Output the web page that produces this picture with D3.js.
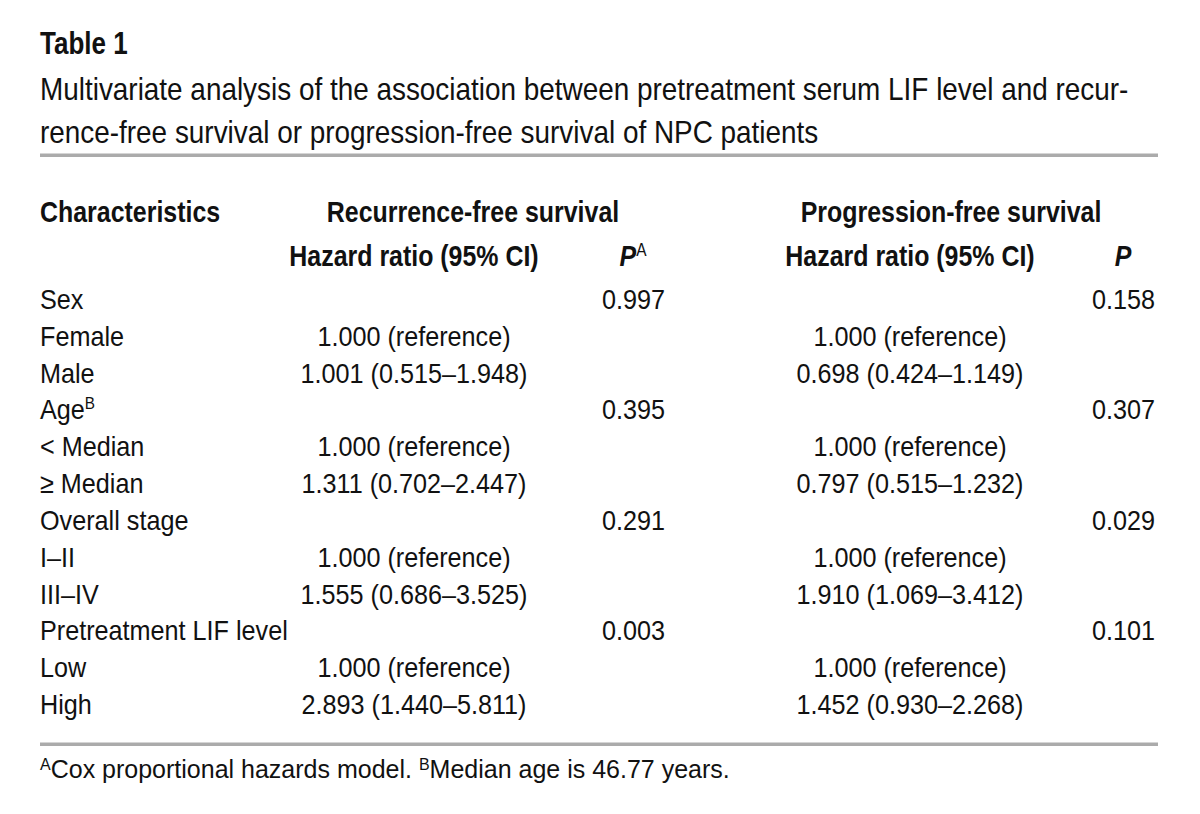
<!DOCTYPE html>
<html>
<head>
<meta charset="utf-8">
<script src="https://cdn.jsdelivr.net/npm/d3@7/dist/d3.min.js"></script>
<style>
  html, body { margin: 0; padding: 0; background: #fff; }
  svg { display: block; }
  text { font-family: "Liberation Sans", Arial, Helvetica, sans-serif; }
</style>
</head>
<body>
<svg id="chart" width="1200" height="814"></svg>
<script>
const titleText = "Table 1";
const subtitleLines = [
  "Multivariate analysis of the association between pretreatment serum LIF level and recur-",
  "rence-free survival or progression-free survival of NPC patients"
];
const groupHeaders = ["Recurrence-free survival", "Progression-free survival"];
const subHeaders = ["Hazard ratio (95% CI)", "P", "Hazard ratio (95% CI)", "P"];
const subHeaderSup = ["", "A", "", ""];
const characteristics = ["Sex", "Female", "Male", "Age", "< Median", "\u2265 Median", "Overall stage", "I\u2013II", "III\u2013IV", "Pretreatment LIF level", "Low", "High"];
const charSup = ["", "", "", "B", "", "", "", "", "", "", "", ""];
const rfsHR = ["", "1.000 (reference)", "1.001 (0.515\u20131.948)", "", "1.000 (reference)", "1.311 (0.702\u20132.447)", "", "1.000 (reference)", "1.555 (0.686\u20133.525)", "", "1.000 (reference)", "2.893 (1.440\u20135.811)"];
const rfsP = ["0.997", "", "", "0.395", "", "", "0.291", "", "", "0.003", "", ""];
const pfsHR = ["", "1.000 (reference)", "0.698 (0.424\u20131.149)", "", "1.000 (reference)", "0.797 (0.515\u20131.232)", "", "1.000 (reference)", "1.910 (1.069\u20133.412)", "", "1.000 (reference)", "1.452 (0.930\u20132.268)"];
const pfsP = ["0.158", "", "", "0.307", "", "", "0.029", "", "", "0.101", "", ""];
const footSups = ["A", "B"];
const footTexts = ["Cox proportional hazards model. ", "Median age is 46.77 years."];

const svg = d3.select("#chart");
const left = 40, right = 1158;
const ink = "#111";
const ruleColor = "#ababab";

// condensed text helper: g positioned at (x,y) with horizontal squeeze
function cgroup(parent, x, y, sx) {
  return parent.append("g").attr("transform", `translate(${x},${y}) scale(${sx},1)`);
}

// Title
cgroup(svg, left, 54, 0.84).append("text")
  .attr("font-size", 31).attr("font-weight", "bold").attr("fill", ink)
  .text(titleText);

svg.selectAll("g.sub").data(subtitleLines).enter().append("g")
  .attr("class", "sub")
  .attr("transform", (d, i) => `translate(${left},${100 + i * 43}) scale(0.9,1)`)
  .append("text")
  .attr("font-size", 31).attr("fill", ink)
  .text(d => d);

// Rules
svg.append("rect").attr("x", left).attr("y", 153.5).attr("width", right - left).attr("height", 3.5).attr("fill", ruleColor);
svg.append("rect").attr("x", left).attr("y", 742.5).attr("width", right - left).attr("height", 3.5).attr("fill", ruleColor);

// Column positions
const col = {rfsHR: 414, rfsP: 665, rfsPc: 633, pfsHR: 910, pfsP: 1155, pfsPc: 1123};
const hs = 0.86, bs = 0.9;

// Header row 1
const h1y = 222, h2y = 266;
cgroup(svg, left, h1y, hs).append("text")
  .attr("font-size", 29).attr("font-weight", "bold").attr("fill", ink).text("Characteristics");
svg.selectAll("g.gh").data(groupHeaders).enter().append("g")
  .attr("class", "gh")
  .attr("transform", (d, i) => `translate(${i === 0 ? 473 : 951},${h1y}) scale(${hs},1)`)
  .append("text").attr("text-anchor", "middle")
  .attr("font-size", 29).attr("font-weight", "bold").attr("fill", ink).text(d => d);

// Header row 2
const subX = [col.rfsHR, col.rfsPc, col.pfsHR, col.pfsPc];
subHeaders.forEach((d, i) => {
  const t = cgroup(svg, subX[i], h2y, hs).append("text")
    .attr("text-anchor", "middle")
    .attr("font-size", 29).attr("font-weight", "bold").attr("fill", ink);
  if (d === "P") {
    t.append("tspan").attr("font-style", "italic").text("P");
    if (subHeaderSup[i]) t.append("tspan").attr("font-size", 18).attr("font-weight", "normal").attr("dy", -10).text(subHeaderSup[i]);
  } else {
    t.text(d);
  }
});

// Body rows
const y = d3.scaleLinear().domain([0, characteristics.length - 1]).range([309, 714]);
const body = svg.append("g").attr("font-size", 28).attr("fill", ink);

const charText = body.selectAll("g.ch").data(characteristics).enter().append("g")
  .attr("class", "ch")
  .attr("transform", (d, i) => `translate(${left},${y(i)}) scale(${bs},1)`)
  .append("text");
charText.append("tspan").text(d => d);
charText.append("tspan").attr("font-size", 17).attr("dy", -10).text((d, i) => charSup[i]);

function colText(arr, x, anchor, cls) {
  body.selectAll("g." + cls).data(arr).enter().append("g")
    .attr("class", cls)
    .attr("transform", (d, i) => `translate(${x},${y(i)}) scale(${bs},1)`)
    .append("text").attr("text-anchor", anchor).text(d => d);
}
colText(rfsHR, col.rfsHR, "middle", "c1");
colText(rfsP, col.rfsP, "end", "c2");
colText(pfsHR, col.pfsHR, "middle", "c3");
colText(pfsP, col.pfsP, "end", "c4");

// Footnote
const fn = svg.append("text").attr("x", left).attr("y", 778)
  .attr("font-size", 25).attr("fill", ink);
footTexts.forEach((t, i) => {
  fn.append("tspan").attr("font-size", 16).attr("dy", -8).text(footSups[i]);
  fn.append("tspan").attr("dy", 8).text(t);
});
</script>
</body>
</html>
